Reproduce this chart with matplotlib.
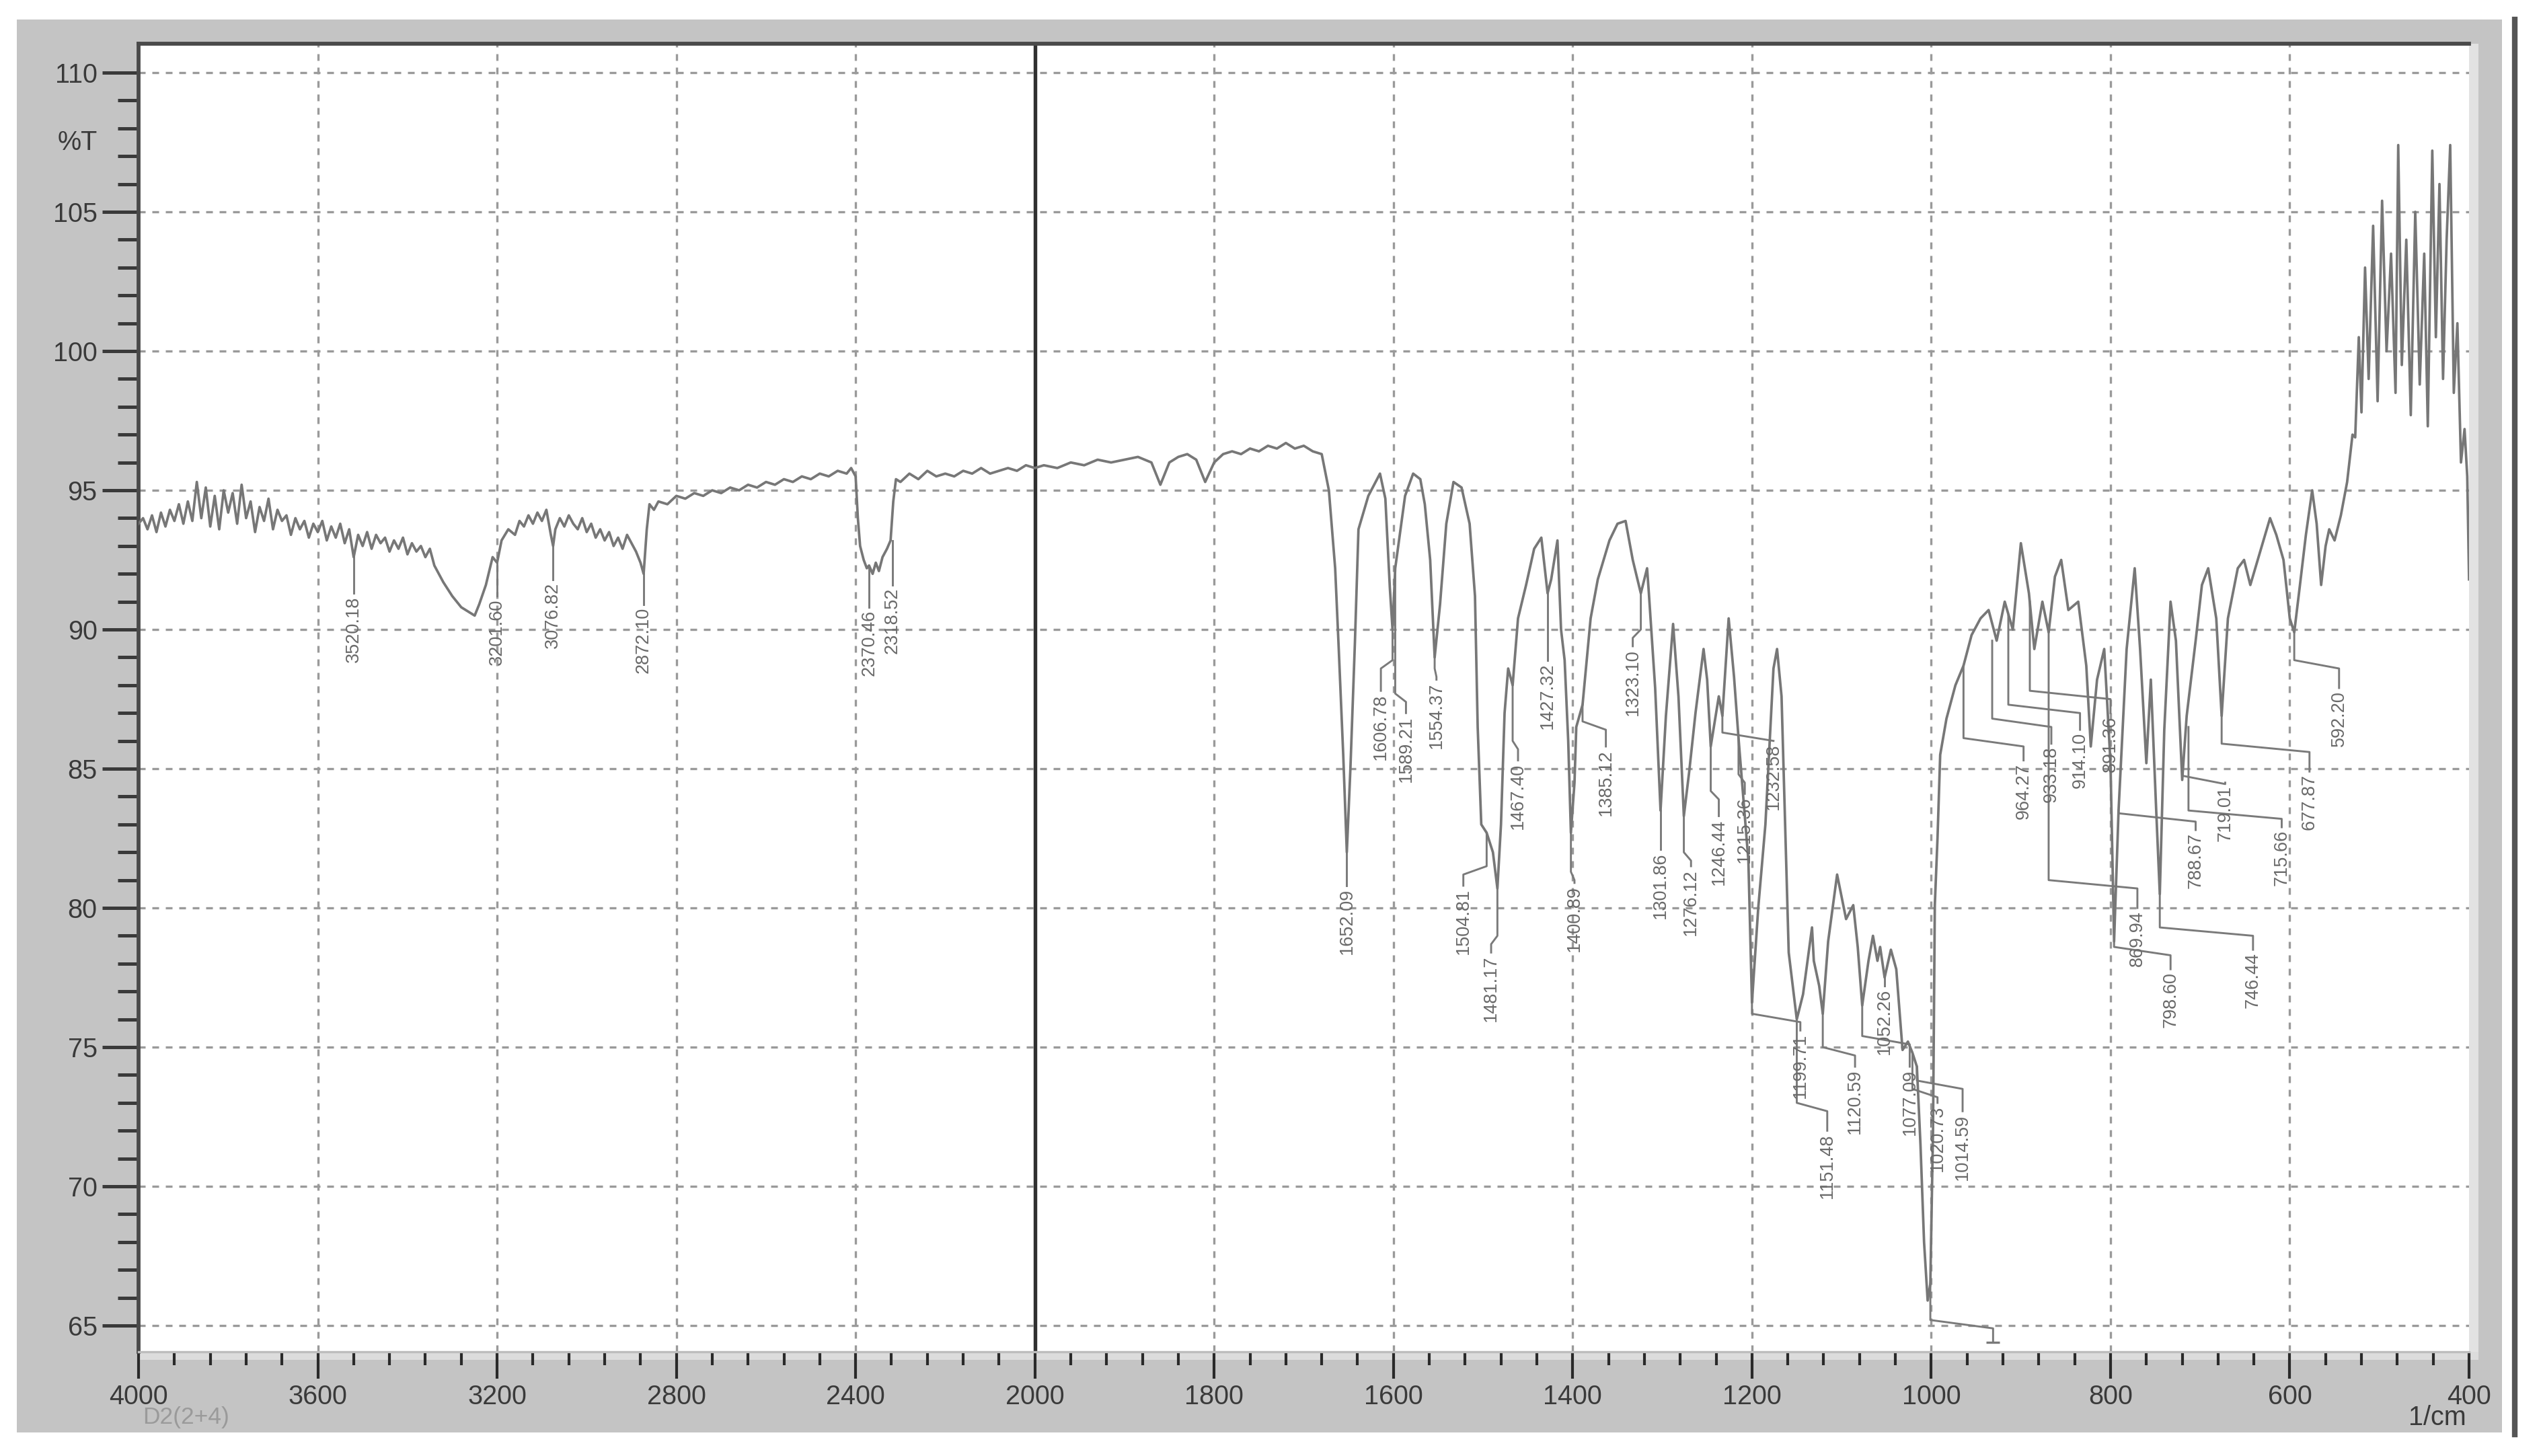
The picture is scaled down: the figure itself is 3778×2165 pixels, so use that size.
import numpy as np
import matplotlib
matplotlib.use("Agg")
import matplotlib.pyplot as plt
from matplotlib.patches import Rectangle
from matplotlib.lines import Line2D

plt.rcParams["font.family"] = ["Liberation Sans", "DejaVu Sans"]

# FTIR spectrum (wavenumber in 1/cm, transmittance in %T)
wavenumber = [
    4000, 3990, 3980, 3970, 3960, 3950, 3940, 3930, 3920, 3910, 3900, 3890, 3880, 3870,
    3860, 3850, 3840, 3830, 3820, 3810, 3800, 3790, 3780, 3770, 3760, 3750, 3740, 3730,
    3720, 3710, 3700, 3690, 3680, 3670, 3660, 3650, 3640, 3630, 3620, 3610, 3600, 3590,
    3580, 3570, 3560, 3550, 3540, 3530, 3520, 3510, 3500, 3490, 3480, 3470, 3460, 3450,
    3440, 3430, 3420, 3410, 3400, 3390, 3380, 3370, 3360, 3350, 3340, 3320, 3300, 3280,
    3260, 3250, 3240, 3225, 3210, 3200, 3190, 3175, 3160, 3150, 3140, 3130, 3120, 3110,
    3100, 3090, 3080, 3075, 3070, 3060, 3050, 3040, 3030, 3020, 3010, 3000, 2990, 2980,
    2970, 2960, 2950, 2940, 2930, 2920, 2910, 2900, 2890, 2880, 2873, 2866, 2860, 2850,
    2840, 2820, 2800, 2780, 2760, 2740, 2720, 2700, 2680, 2660, 2640, 2620, 2600, 2580,
    2560, 2540, 2520, 2500, 2480, 2460, 2440, 2420, 2410, 2400, 2395, 2390, 2382, 2375,
    2370, 2362, 2355, 2348, 2340, 2330, 2322, 2316, 2310, 2300, 2280, 2260, 2240, 2220,
    2200, 2180, 2160, 2140, 2120, 2100, 2080, 2060, 2040, 2020, 2000,
    1990, 1975, 1960, 1945, 1930, 1915, 1900, 1885, 1870, 1860, 1850, 1840, 1830, 1820,
    1810, 1800, 1790, 1780, 1770, 1760, 1750, 1740, 1730, 1720, 1710, 1700, 1690, 1680,
    1672, 1665, 1661, 1656, 1652, 1648, 1643, 1639, 1628, 1615, 1609, 1604, 1601, 1598,
    1587, 1578, 1570, 1565, 1559, 1554, 1548, 1541, 1533, 1524, 1515, 1509, 1506, 1502,
    1496, 1489, 1484, 1480, 1476, 1472, 1467, 1461, 1452, 1443, 1435, 1428, 1424, 1417,
    1413, 1409, 1405, 1402, 1398, 1396, 1389, 1380, 1372, 1359, 1350, 1341, 1333, 1324,
    1317, 1315, 1308, 1302, 1296, 1288, 1282, 1276, 1270, 1263, 1254, 1250, 1246, 1237,
    1233, 1226, 1220, 1215, 1204, 1200, 1193, 1185, 1176, 1172, 1167, 1163, 1159, 1150,
    1143, 1138, 1133, 1131, 1125, 1121, 1115, 1105, 1100, 1095, 1087, 1082, 1077, 1070,
    1065, 1060, 1057, 1052, 1045, 1039, 1032, 1026, 1021, 1016, 1012, 1008, 1004, 1001,
    998, 996, 993, 990, 983, 973, 964, 955, 945, 936, 927, 918, 909, 900,
    891, 885, 876, 869, 862, 855, 847, 836, 827, 822, 815, 807, 800, 796,
    791, 782, 773, 767, 760, 755, 749, 745, 740, 733, 727, 720, 715, 705,
    698, 691, 682, 676, 669, 658, 651, 644, 633, 622, 615, 607, 600, 595,
    589, 582, 575, 570, 565, 560, 556, 550, 543, 536, 530, 527, 523, 520,
    516, 512, 507, 502, 497, 492, 487, 482, 479, 475, 470, 465, 460, 455,
    450, 446, 441, 437, 433, 429, 425, 421, 417, 413, 409, 405, 402, 400,
]
transmittance = [
    93.8, 94.0, 93.6, 94.1, 93.5, 94.2, 93.7, 94.3, 93.9, 94.5, 93.8, 94.6, 93.9, 95.3,
    94.0, 95.1, 93.7, 94.8, 93.6, 95.0, 94.2, 94.9, 93.8, 95.2, 94.0, 94.6, 93.5, 94.4,
    93.9, 94.7, 93.6, 94.3, 93.9, 94.1, 93.4, 94.0, 93.6, 93.9, 93.3, 93.8, 93.5, 93.9,
    93.2, 93.7, 93.3, 93.8, 93.1, 93.6, 92.6, 93.4, 93.0, 93.5, 92.9, 93.4, 93.1, 93.3,
    92.8, 93.2, 92.9, 93.3, 92.7, 93.1, 92.8, 93.0, 92.6, 92.9, 92.3, 91.7, 91.2, 90.8,
    90.6, 90.5, 90.9, 91.6, 92.6, 92.4, 93.2, 93.6, 93.4, 93.9, 93.7, 94.1, 93.8, 94.2,
    93.9, 94.3, 93.4, 93.0, 93.6, 94.0, 93.7, 94.1, 93.8, 93.6, 94.0, 93.5, 93.8, 93.3,
    93.6, 93.2, 93.5, 93.0, 93.3, 92.9, 93.4, 93.1, 92.8, 92.4, 92.0, 93.6, 94.5, 94.3,
    94.6, 94.5, 94.8, 94.7, 94.9, 94.8, 95.0, 94.9, 95.1, 95.0, 95.2, 95.1, 95.3, 95.2,
    95.4, 95.3, 95.5, 95.4, 95.6, 95.5, 95.7, 95.6, 95.8, 95.5, 94.0, 93.0, 92.5, 92.2,
    92.3, 92.0, 92.4, 92.1, 92.6, 92.9, 93.2, 94.6, 95.4, 95.3, 95.6, 95.4, 95.7, 95.5,
    95.6, 95.5, 95.7, 95.6, 95.8, 95.6, 95.7, 95.8, 95.7, 95.9, 95.8,
    95.9, 95.8, 96.0, 95.9, 96.1, 96.0, 96.1, 96.2, 96.0, 95.2, 96.0, 96.2, 96.3, 96.1,
    95.3, 96.0, 96.3, 96.4, 96.3, 96.5, 96.4, 96.6, 96.5, 96.7, 96.5, 96.6, 96.4, 96.3,
    95.0, 92.2, 89.3, 85.5, 82.0, 85.0, 89.5, 93.6, 94.8, 95.6, 94.7, 91.5, 90.0, 92.2,
    94.8, 95.6, 95.4, 94.5, 92.5, 89.0, 90.9, 93.8, 95.3, 95.1, 93.8, 91.2, 86.5, 83.0,
    82.7, 82.0, 80.7, 83.0, 87.0, 88.6, 88.0, 90.4, 91.6, 92.9, 93.3, 91.3, 91.8, 93.2,
    90.0, 88.9, 86.0, 82.7, 84.5, 86.5, 87.3, 90.4, 91.8, 93.2, 93.8, 93.9, 92.5, 91.3,
    92.2, 91.3, 87.9, 83.5, 86.9, 90.2, 87.6, 83.3, 84.9, 87.0, 89.3, 88.2, 85.8, 87.6,
    86.9, 90.4, 88.3, 86.1, 81.7, 76.6, 80.0, 83.0, 88.6, 89.3, 87.6, 83.0, 78.4, 76.0,
    76.9, 78.1, 79.3, 78.1, 77.2, 76.2, 78.8, 81.2, 80.4, 79.6, 80.1, 78.6, 76.5, 78.1,
    79.0, 78.1, 78.6, 77.5, 78.5, 77.8, 74.9, 75.2, 74.8, 74.3, 71.5, 68.0, 65.9, 66.5,
    72.0, 80.1, 82.5, 85.5, 86.8, 88.0, 88.7, 89.8, 90.4, 90.7, 89.6, 91.0, 90.0, 93.1,
    91.3, 89.3, 91.0, 89.9, 91.9, 92.5, 90.7, 91.0, 88.7, 85.8, 88.2, 89.3, 85.2, 78.8,
    83.5, 89.3, 92.2, 89.3, 85.2, 88.2, 83.5, 80.5, 86.4, 91.0, 89.6, 84.6, 86.9, 89.6,
    91.6, 92.2, 90.4, 86.9, 90.4, 92.2, 92.5, 91.6, 92.8, 94.0, 93.4, 92.5, 90.4, 89.9,
    91.5, 93.4, 95.0, 93.8, 91.6, 93.0, 93.6, 93.2, 94.1, 95.3, 97.0, 96.9, 100.5, 97.8,
    103.0, 99.0, 104.5, 98.2, 105.4, 100.0, 103.5, 98.5, 107.4, 99.5, 104.0, 97.7, 105.0, 98.8,
    103.5, 97.3, 107.2, 100.5, 106.0, 99.0, 104.0, 107.4, 98.5, 101.0, 96.0, 97.2, 95.5, 91.8,
]

# peak labels: peak position, leader knee, label position and printed value
peak_wn = [3520, 3200, 3076, 2873, 2370, 2318,
           1652, 1601, 1598, 1554, 1496, 1484, 1467, 1428, 1402, 1389, 1324, 1302,
           1276, 1246, 1215, 1233, 1200, 1150, 1121, 1052, 1077, 1021, 1016, 1001,
           964, 932, 914, 890, 869, 796, 745, 791, 720, 713, 676, 595]
peak_t = [92.6, 92.4, 93.0, 92.0, 92.3, 93.2,
          82.0, 90.0, 92.2, 89.0, 82.7, 80.7, 88.0, 91.3, 82.7, 87.3, 91.3, 83.5,
          83.3, 85.8, 86.1, 86.9, 76.6, 76.0, 76.2, 77.5, 76.5, 74.8, 74.3, 66.5,
          88.7, 89.6, 90.5, 91.0, 89.9, 78.8, 80.5, 83.5, 84.6, 86.5, 86.9, 89.9]
knee_t = [92.0, 91.9, 92.4, 91.5, 91.5, 92.3,
          81.2, 88.9, 87.7, 88.6, 81.5, 79.0, 86.0, 89.3, 81.3, 86.7, 90.0, 82.4,
          82.0, 84.2, 84.8, 86.3, 76.2, 73.0, 75.0, 77.3, 75.4, 73.5, 73.8, 65.2,
          86.1, 86.8, 87.3, 87.8, 81.0, 78.6, 79.3, 83.4, 84.75, 83.5, 85.9, 88.9]
label_wn = [3520, 3200, 3076, 2873, 2370, 2318,
            1652, 1614, 1586, 1552, 1522, 1491, 1461, 1428, 1398, 1363, 1333, 1302,
            1268, 1237, 1208, 1176, 1146, 1116, 1085, 1052, 1024, 993, 965, 931,
            897, 866, 834, 800, 770, 733, 641, 705, 672, 609, 578, 545]
label_t = [91.3, 91.2, 91.8, 90.9, 90.8, 91.6,
           80.8, 87.8, 87.0, 88.2, 80.8, 78.4, 85.3, 88.9, 80.9, 85.8, 89.4, 82.1,
           81.5, 83.3, 84.1, 86.0, 75.6, 72.0, 74.3, 77.2, 74.3, 73.0, 72.7, 64.4,
           85.3, 85.9, 86.4, 87.0, 80.0, 77.8, 78.5, 82.8, 84.5, 82.9, 84.9, 87.9]
label_txt = ["3520.18", "3201.60", "3076.82", "2872.10", "2370.46", "2318.52",
             "1652.09", "1606.78", "1589.21", "1554.37", "1504.81", "1481.17", "1467.40",
             "1427.32", "1400.89", "1385.12", "1323.10", "1301.86", "1276.12", "1246.44",
             "1215.36", "1232.58", "1199.71", "1151.48", "1120.59", "1052.26", "1077.09",
             "1020.73", "1014.59", "",
             "964.27", "933.18", "914.10", "891.36", "869.94", "798.60", "746.44",
             "788.67", "719.01", "715.66", "677.87", "592.20"]

x_major = [4000, 3600, 3200, 2800, 2400, 2000, 1800, 1600, 1400, 1200, 1000, 800, 600, 400]
y_major = [65, 70, 75, 80, 85, 90, 95, 100, 105, 110]


# the spectrometer doubles the x scale below 2000 1/cm
def fwd(x):
    x = np.asarray(x, dtype=float)
    return np.where(x >= 2000, (x - 2000) / 400.0, (x - 2000) / 200.0)


def inv(u):
    u = np.asarray(u, dtype=float)
    return np.where(u >= 0, 2000 + 400 * u, 2000 + 200 * u)


W, H = 3779, 2165
fig = plt.figure(figsize=(W / 300, H / 300), dpi=300, facecolor="white")

# grey instrument panel around the plot
fig.patches.append(Rectangle((25 / W, 1 - 2130 / H), (3720 - 25) / W, (2130 - 29) / H,
                             transform=fig.transFigure, fc="#c4c4c4", ec="none", zorder=-5))
fig.patches.append(Rectangle((3671 / W, 1 - 2010 / H), 14 / W, (2010 - 65) / H,
                             transform=fig.transFigure, fc="#e2e2e2", ec="none", zorder=-4))
fig.patches.append(Rectangle((206 / W, 1 - 2022 / H), 3479 / W, 12 / H,
                             transform=fig.transFigure, fc="#dcdcdc", ec="none", zorder=-4))
fig.lines.append(Line2D([3739 / W, 3739 / W], [1 - 2133 / H, 1 - 29 / H],
                        transform=fig.transFigure, color="#555555", lw=2.0))

ax = fig.add_axes([206 / W, 1 - 2010 / H, 3465 / W, (2010 - 65) / H])
ax.set_facecolor("white")
ax.set_xscale("function", functions=(fwd, inv))
ax.set_xlim(4000, 400)
ax.set_ylim(64.06, 111.04)

# grid
grid_kw = dict(color="#9a9a9a", lw=0.8, ls=(0, (3, 3)), zorder=1)
for v in y_major:
    ax.axhline(v, **grid_kw)
for v in x_major[1:-1]:
    if v != 2000:
        ax.axvline(v, **grid_kw)
ax.axvline(2000, color="#303030", lw=1.3, zorder=2)

# spectrum
ax.plot(wavenumber, transmittance, color="#777777", lw=0.9, zorder=3)

# peak labels with leader lines
for pw, pt, kt, lw_, lt, txt in zip(peak_wn, peak_t, knee_t, label_wn, label_t, label_txt):
    ax.plot([pw, pw, lw_, lw_], [pt, kt, kt - 0.3 if lw_ != pw else kt, lt],
            color="#7a7a7a", lw=0.7, zorder=2)
    if txt:
        ax.text(lw_, lt - 0.1, txt, rotation=90, ha="center", va="top", fontsize=6.5,
                color="#6a6a6a", zorder=4, clip_on=True)
    else:
        ax.plot([lw_], [lt], marker="_", ms=5, mew=0.8, color="#7a7a7a", zorder=2)

# ticks
x_minor = [v for v in range(4000, 2000, -80) if v not in x_major] + \
          [v for v in range(2000, 400, -40) if v not in x_major]
ax.set_xticks(x_major)
ax.set_xticklabels([str(v) for v in x_major])
ax.set_xticks(x_minor, minor=True)
ax.set_yticks(y_major)
ax.set_yticklabels([str(v) for v in y_major])
ax.set_yticks([v for v in range(65, 111) if v not in y_major], minor=True)

ax.tick_params(axis="x", which="major", direction="out", length=9.6, width=1.0,
               color="#2a2a2a", pad=2, labelsize=9.5, labelcolor="#3a3a3a")
ax.tick_params(axis="x", which="minor", direction="out", length=4.8, width=1.0, color="#2a2a2a")
ax.tick_params(axis="y", which="major", direction="out", length=13, width=1.2,
               color="#3a3a3a", pad=1.7, labelsize=9.5, labelcolor="#3a3a3a")
ax.tick_params(axis="y", which="minor", direction="out", length=7.4, width=1.2, color="#3a3a3a")

for side in ("left", "top"):
    ax.spines[side].set_color("#4a4a4a")
    ax.spines[side].set_linewidth(1.4)
ax.spines["right"].set_visible(False)
ax.spines["bottom"].set_color("#bdbdbd")
ax.spines["bottom"].set_linewidth(0.8)

ax.text(-0.0176, 107.5, "%T", transform=ax.get_yaxis_transform(), ha="right", va="center",
        fontsize=9.5, color="#3a3a3a")
fig.text(3667 / W, 1 - 2108 / H, "1/cm", ha="right", va="center", fontsize=9.5, color="#3a3a3a")
fig.text(212 / W, 1 - 2108 / H, "D2(2+4)", ha="left", va="center", fontsize=8.5, color="#9a9a9a")

fig.savefig("out.png", dpi=300, facecolor=fig.get_facecolor())
